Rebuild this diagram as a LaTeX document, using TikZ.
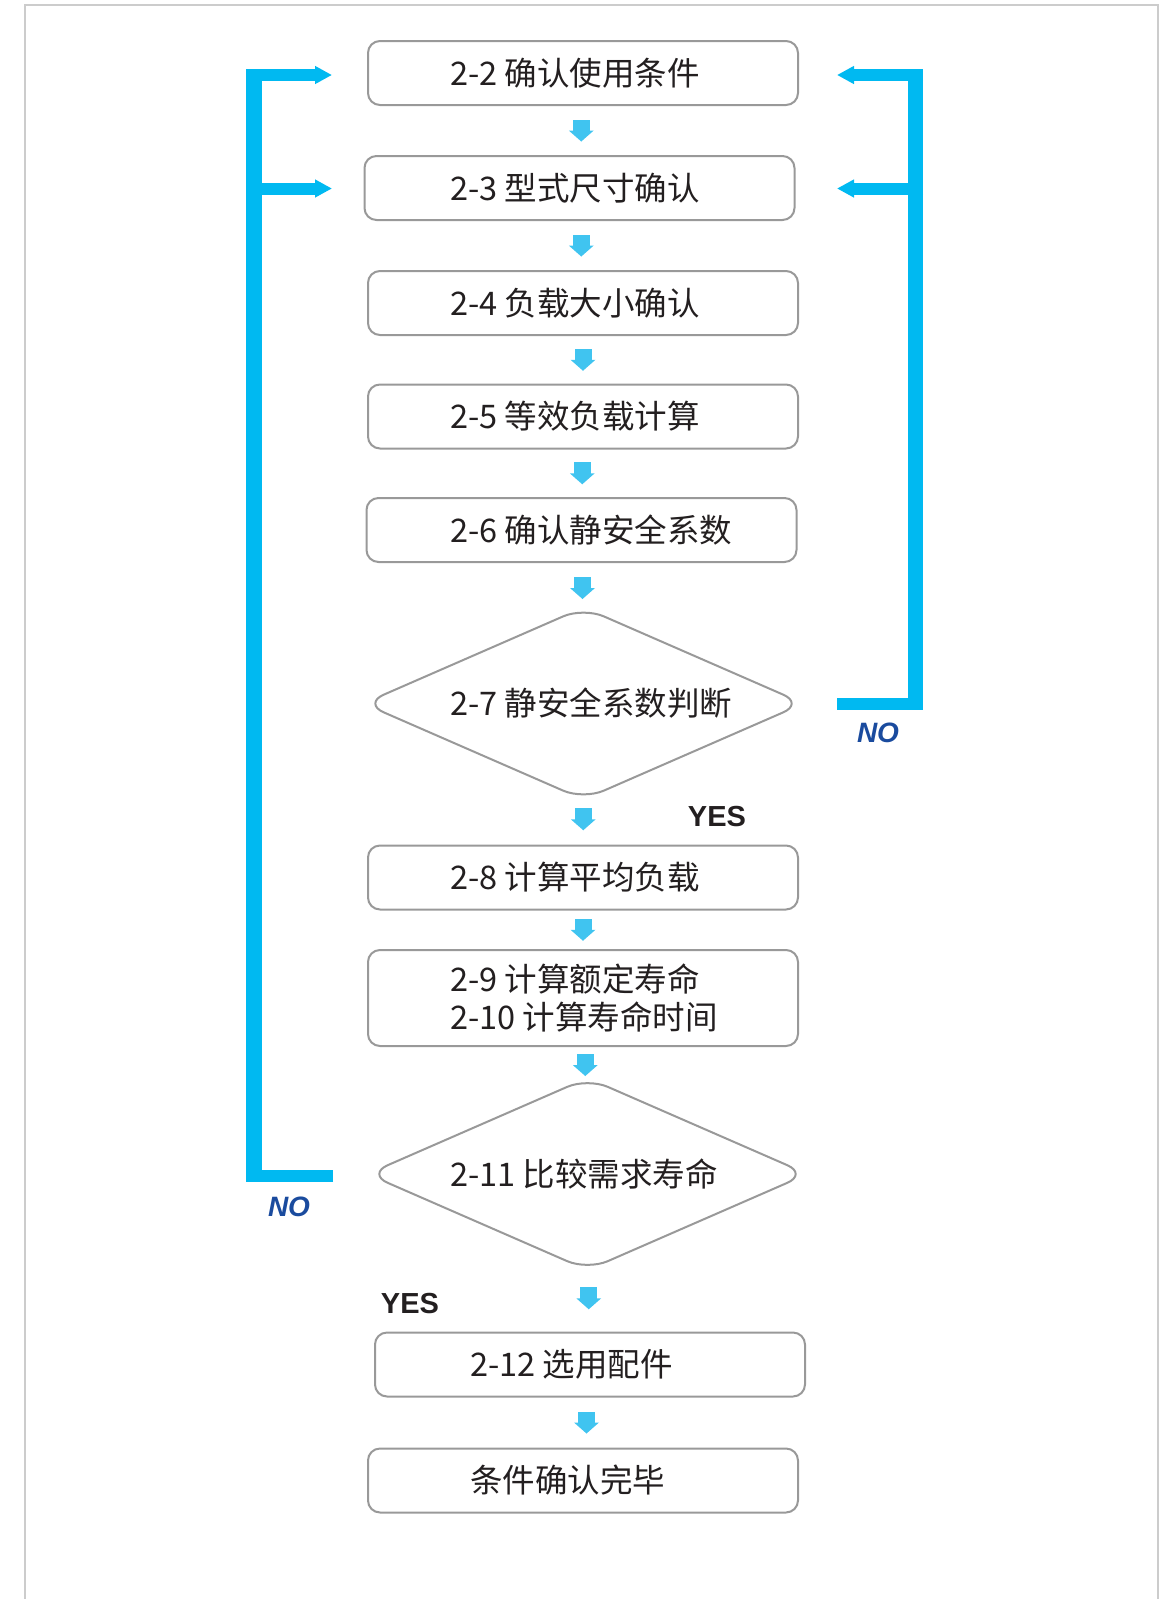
\documentclass[tikz,border=0pt]{standalone}
\usepackage{fontspec}
\setmainfont{Noto Sans CJK SC}
\newfontfamily\labfont{Liberation Sans}
\usetikzlibrary{calc,arrows.meta}
\definecolor{boxgray}{HTML}{999999}
\definecolor{txtc}{HTML}{231F20}
\definecolor{fbc}{HTML}{00B9F1}
\definecolor{arrc}{HTML}{40C4F0}
\definecolor{noc}{HTML}{1A4B9E}
\definecolor{framec}{HTML}{CCCCCC}
\begin{document}
\begin{tikzpicture}[x=1pt,y=-1pt,
  box/.style={draw=boxgray, line width=2pt, rounded corners=12pt, fill=white,
    minimum width=430pt, minimum height=64pt, inner sep=0pt},
  txt/.style={anchor=west, inner sep=0pt, text=txtc, font=\fontsize{32.5}{38}\selectfont},
  dia/.style={draw=boxgray, line width=2pt, rounded corners=22pt, fill=white},
  darr/.pic={\fill[arrc] (-8.5,-11) rectangle (8.5,0.5);
             \fill[arrc] (-12.5,0) -- (12.5,0) -- (0,11) -- cycle;},
  fbh/.style={draw=fbc, line width=12pt},
  fbtip/.style={-{Triangle[length=17pt,width=17pt]}},
  yeslab/.style={text=txtc, inner sep=0pt, font=\labfont\bfseries\fontsize{29}{34}\selectfont},
  nolab/.style={text=noc, inner sep=0pt, font=\labfont\bfseries\itshape\fontsize{28}{34}\selectfont}
]
\useasboundingbox (0,0) rectangle (1170,1599);
% outer frame
\draw[framec, line width=2pt] (25,1600) -- (25,5) -- (1158,5) -- (1158,1600);

% boxes
\node[box] (b22) at (583,73) {};
\node[box] (b23) at (579.5,188) {};
\node[box] (b24) at (583,303) {};
\node[box] (b25) at (583,416.5) {};
\node[box] (b26) at (581.5,530) {};
\node[box] (b28) at (583,877.5) {};
\node[box, minimum height=96pt] (b29) at (583,998) {};
\node[box] (b212) at (590,1364.5) {};
\node[box] (bend) at (583,1480.5) {};

% diamonds
\coordinate (d1) at (583.5,703.5);
\draw[dia] ($(d1)+(-110,-48)$) -- ($(d1)+(0,-96)$) -- ($(d1)+(220,0)$)
  -- ($(d1)+(0,96)$) -- ($(d1)+(-220,0)$) -- cycle;
\coordinate (d2) at (587.5,1174);
\draw[dia] ($(d2)+(-110,-48)$) -- ($(d2)+(0,-96)$) -- ($(d2)+(220,0)$)
  -- ($(d2)+(0,96)$) -- ($(d2)+(-220,0)$) -- cycle;
\coordinate (d1n) at ($(d1)+(0,-90.5)$);
\coordinate (d1s) at ($(d1)+(0,90.5)$);
\coordinate (d2n) at ($(d2)+(0,-91)$);
\coordinate (d2s) at ($(d2)+(0,91)$);

% texts
\node[txt] (t22) at (450,73) {2-2 确认使用条件};
\node[txt] (t23) at (450,188) {2-3 型式尺寸确认};
\node[txt] (t24) at (450,303) {2-4 负载大小确认};
\node[txt] (t25) at (450,416.5) {2-5 等效负载计算};
\node[txt] (t26) at (450,530) {2-6 确认静安全系数};
\node[txt] (t27) at (450,703.5) {2-7 静安全系数判断};
\node[txt] (t28) at (450,877.5) {2-8 计算平均负载};
\node[txt, align=left] (t29) at (450,998) {2-9 计算额定寿命\\2-10 计算寿命时间};
\node[txt] (t211) at (450,1174) {2-11 比较需求寿命};
\node[txt] (t212) at (470,1364.5) {2-12 选用配件};
\node[txt] (tend) at (470,1480.5) {条件确认完毕};

% small down arrows
\path (b22.south) -- (b23.north) pic[pos=0.5] {darr};
\path (b23.south) -- (b24.north) pic[pos=0.5] {darr};
\path (b24.south) -- (b25.north) pic[pos=0.5] {darr};
\path (b25.south) -- (b26.north) pic[pos=0.5] {darr};
\path (b26.south) -- (d1n) pic[pos=0.5] {darr};
\path (d1s) -- (b28.north) pic[pos=0.5] {darr};
\path (b28.south) -- (b29.north) pic[pos=0.5] {darr};
\path (b29.south) -- (d2n) pic[pos=0.5] {darr};
\path (d2s) -- (b212.north) pic[pos=0.5] {darr};
\path (b212.south) -- (bend.north) pic[pos=0.5] {darr};

% left feedback (NO from 2-11)
\fill[fbc] (246,70) rectangle (262,1182);
\coordinate (lb) at (333,1176);
\coordinate (lt1) at (332,75);
\coordinate (lt2) at (332,188.5);
\draw[fbh] (lb) -- (246,1176);
\draw[fbh, fbtip] (246,75) -- (lt1);
\draw[fbh, fbtip] (246,188.5) -- (lt2);

% right feedback (NO from 2-7)
\fill[fbc] (908,70) rectangle (923,710);
\coordinate (rb) at (837,704);
\coordinate (rt1) at (837,75);
\coordinate (rt2) at (837,188.5);
\draw[fbh] (rb) -- (923,704);
\draw[fbh, fbtip] (923,75) -- (rt1);
\draw[fbh, fbtip] (923,188.5) -- (rt2);

% labels
\node[nolab] (no1) at (878,733) {NO};
\node[nolab] (no2) at (289,1207) {NO};
\node[yeslab] (yes1) at (717,817) {YES};
\node[yeslab] (yes2) at (410,1303) {YES};
\end{tikzpicture}
\end{document}
